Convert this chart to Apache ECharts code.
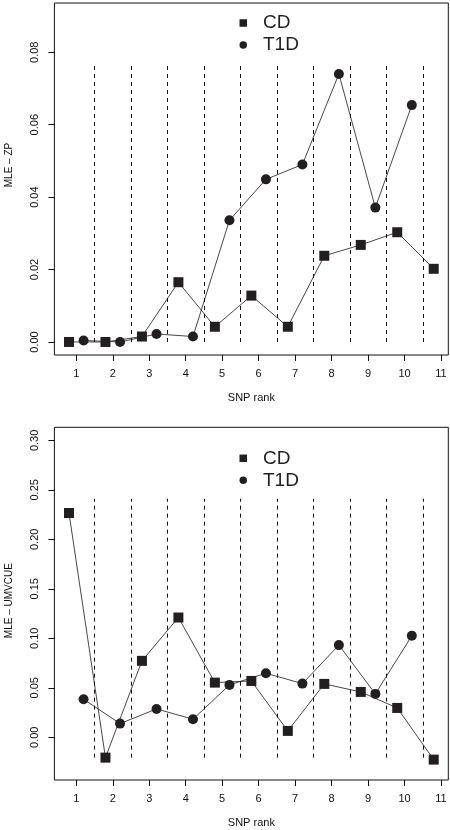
<!DOCTYPE html>
<html>
<head>
<meta charset="utf-8">
<script src="https://cdn.jsdelivr.net/npm/echarts@6/dist/echarts.min.js"></script>
<style>
html,body{margin:0;padding:0;background:#fff;}
#chart{width:450px;height:830px;}
</style>
</head>
<body>
<div id="chart"></div>
<script>
// ---- data ----
const ranks = [1, 2, 3, 4, 5, 6, 7, 8, 9, 10, 11];
const ranksT1D = [1, 2, 3, 4, 5, 6, 7, 8, 9, 10];
const dividers = [1.5, 2.5, 3.5, 4.5, 5.5, 6.5, 7.5, 8.5, 9.5, 10.5];

const zpCD   = [0.0000, 0.0000, 0.0015, 0.0165, 0.0042, 0.0128, 0.0042, 0.0238, 0.0268, 0.0303, 0.0202];
const zpT1D  = [0.0004, 0.0000, 0.0022, 0.0015, 0.0336, 0.0449, 0.0490, 0.0740, 0.0371, 0.0654];
const umCD   = [0.2266, -0.0206, 0.0772, 0.1210, 0.0552, 0.0569, 0.0064, 0.0539, 0.0458, 0.0296, -0.0226];
const umT1D  = [0.0384, 0.0138, 0.0286, 0.0182, 0.0529, 0.0647, 0.0542, 0.0931, 0.0438, 0.1025];

const zpTicks = [0.00, 0.02, 0.04, 0.06, 0.08];
const umTicks = [0.00, 0.05, 0.10, 0.15, 0.20, 0.25, 0.30];
const zpDividerSpan = [0.0, 0.077];
const umDividerSpan = [-0.0206, 0.241];

const seriesNames = ['CD', 'T1D'];
const xTitle = 'SNP rank';
const yTitles = ['MLE \u2013 ZP', 'MLE \u2013 UMVCUE'];

// ---- styling ----
const dodge = 0.2;
const ink = '#231f20';
const font = 'Liberation Sans, Arial, Helvetica, sans-serif';

function pts(xs, ys, off) { return ys.map((v, i) => [xs[i] + off, v]); }
function dividerLines(span) {
  return dividers.map(x => [{coord: [x, span[0]]}, {coord: [x, span[1]]}]);
}

const grids = [
  {left: 54.4, top: 3, width: 393.9, height: 352},
  {left: 54.4, top: 427.3, width: 393.9, height: 352.7}
].map(g => Object.assign(g, {show: true, borderColor: '#111', borderWidth: 1, backgroundColor: 'transparent',
  containLabel: false, outerBoundsMode: 'none'}));

function xAxis(gi) {
  return {
    gridIndex: gi, type: 'value', min: 0.4, max: 11.2, position: 'bottom',
    axisLine: {show: false, onZero: false},
    splitLine: {show: false},
    axisTick: {show: true, customValues: ranks, length: 6, lineStyle: {color: '#111', width: 1}},
    axisLabel: {show: true, customValues: ranks, margin: 13, fontSize: 11, color: '#111', fontFamily: font},
    name: xTitle, nameLocation: 'middle', nameGap: 37,
    nameTextStyle: {fontSize: 11, color: '#111', fontFamily: font}
  };
}
function yAxis(gi, min, max, ticks, title, pad) {
  return {
    gridIndex: gi, type: 'value', min: min, max: max, position: 'left',
    axisLine: {show: false, onZero: false},
    splitLine: {show: false},
    axisTick: {show: true, customValues: ticks, length: 6, lineStyle: {color: '#111', width: 1}},
    axisLabel: {show: true, customValues: ticks, rotate: 90, margin: 14, fontSize: 11, color: '#111',
      fontFamily: font, formatter: v => v.toFixed(2)},
    name: title, nameLocation: 'middle', nameGap: 40, nameRotate: 90,
    nameTextStyle: {fontSize: 10, color: '#111', fontFamily: font, padding: pad}
  };
}

function lineSeries(name, gi, data, symbol, divSpan) {
  const s = {
    name: name, type: 'line', xAxisIndex: gi, yAxisIndex: gi,
    data: data, symbol: symbol, symbolSize: 10, showSymbol: true,
    lineStyle: {color: '#333', width: 0.9},
    itemStyle: {color: ink},
    animation: false, z: 3
  };
  if (divSpan) {
    s.markLine = {
      silent: true, symbol: ['none', 'none'], animation: false,
      label: {show: false},
      lineStyle: {type: [4, 4], color: '#111', width: 1},
      data: dividerLines(divSpan)
    };
  }
  return s;
}

function legend(top) {
  return {
    orient: 'vertical', left: 234.5, top: top, itemGap: 3,
    itemWidth: 7.5, itemHeight: 7.5,
    data: [{name: 'CD', icon: 'rect'}, {name: 'T1D', icon: 'circle'}],
    textStyle: {fontSize: 19, color: ink, fontFamily: font, padding: [0, 0, 0, 11]},
    selectedMode: false
  };
}

const chart = echarts.init(document.getElementById('chart'), null, {renderer: 'canvas'});
chart.setOption({
  animation: false,
  backgroundColor: '#fff',
  grid: grids,
  legend: [legend(8.5), legend(443.8)],
  xAxis: [xAxis(0), xAxis(1)],
  yAxis: [
    yAxis(0, -0.0036, 0.0936, zpTicks, yTitles[0], [0, 0, 0, 28]),
    yAxis(1, -0.0432, 0.3132, umTicks, yTitles[1], [0, 0, 0, 6])
  ],
  series: [
    lineSeries(seriesNames[0], 0, pts(ranks, zpCD, -dodge), 'rect', zpDividerSpan),
    lineSeries(seriesNames[1], 0, pts(ranksT1D, zpT1D, dodge), 'circle', null),
    lineSeries(seriesNames[0], 1, pts(ranks, umCD, -dodge), 'rect', umDividerSpan),
    lineSeries(seriesNames[1], 1, pts(ranksT1D, umT1D, dodge), 'circle', null)
  ]
});
</script>
</body>
</html>
